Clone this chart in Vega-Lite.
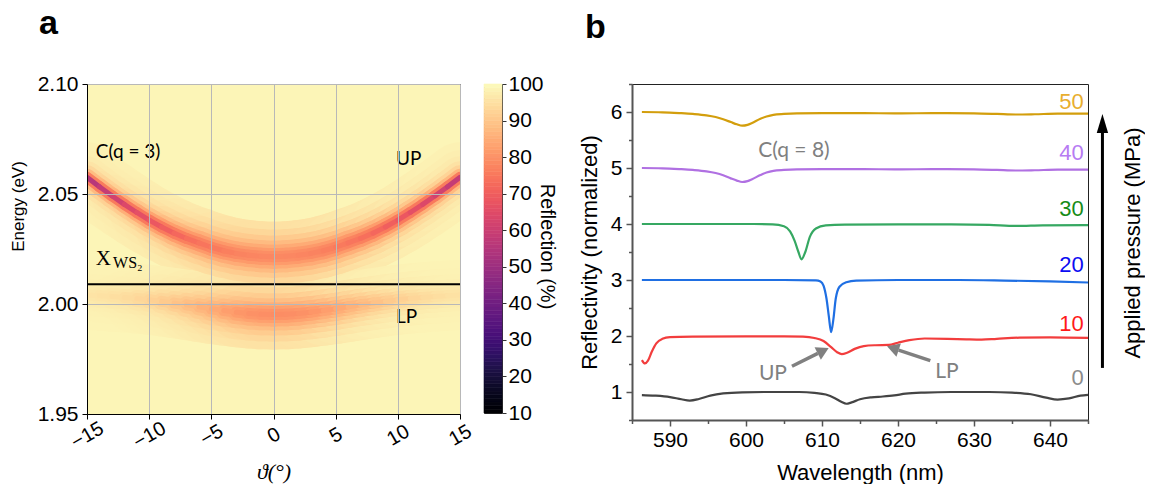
{
  "$schema": "https://vega.github.io/schema/vega-lite/v6.json",
  "padding": {"left": 8, "top": 6, "right": 0, "bottom": 0},
  "background": "white",
  "config": {
    "font": "Liberation Sans",
    "view": {"stroke": "#000"},
    "axis": {"labelFont": "Liberation Sans", "titleFont": "Liberation Sans", "labelColor": "#000", "titleColor": "#000", "titleFontWeight": "normal", "domainColor": "#000", "tickColor": "#000"},
    "title": {"fontSize": 34, "fontWeight": "bold", "anchor": "start", "font": "Liberation Sans", "color": "#000"}
  },
  "resolve": {"scale": {"color": "independent", "stroke": "independent", "fill": "independent"}},
  "spacing": 20,
  "datasets": {
    "bands": [
      {"b":"UP","t":-15,"e":2.0576,"r1":97.8,"r2":97.33,"r3":96.56,"r4":95.21,"r5":92.71,"r6":87.6,"r7":75.76,"r8":55.2},
      {"b":"UP","t":-14,"e":2.0533,"r1":97.7,"r2":97.2,"r3":96.35,"r4":94.88,"r5":92.19,"r6":86.87,"r7":75.45,"r8":58.09},
      {"b":"UP","t":-13,"e":2.0492,"r1":97.6,"r2":97.0,"r3":96.06,"r4":94.42,"r5":91.5,"r6":85.97,"r7":75.12,"r8":60.86},
      {"b":"UP","t":-12,"e":2.0453,"r1":97.45,"r2":96.78,"r3":95.69,"r4":93.86,"r5":90.69,"r6":85.02,"r7":74.92,"r8":63.45},
      {"b":"UP","t":-11,"e":2.0416,"r1":97.27,"r2":96.49,"r3":95.25,"r4":93.19,"r5":89.77,"r6":84.01,"r7":74.82,"r8":65.72},
      {"b":"UP","t":-10,"e":2.0381,"r1":97.05,"r2":96.15,"r3":94.73,"r4":92.45,"r5":88.82,"r6":83.12,"r7":74.95,"r8":67.84},
      {"b":"UP","t":-9,"e":2.0350,"r1":96.74,"r2":95.67,"r3":94.0,"r4":91.5,"r5":87.65,"r6":82.1,"r7":75.06,"r8":69.64},
      {"b":"UP","t":-8,"e":2.0322,"r1":96.44,"r2":95.2,"r3":93.4,"r4":90.66,"r5":86.75,"r6":81.54,"r7":75.55,"r8":71.35},
      {"b":"UP","t":-7,"e":2.0298,"r1":96.1,"r2":94.7,"r3":92.7,"r4":89.8,"r5":85.95,"r6":81.2,"r7":76.15,"r8":72.9},
      {"b":"UP","t":-6,"e":2.0278,"r1":95.74,"r2":94.2,"r3":92.05,"r4":89.07,"r5":85.28,"r6":80.92,"r7":76.68,"r8":74.1},
      {"b":"UP","t":-5,"e":2.0258,"r1":95.4,"r2":93.8,"r3":91.5,"r4":88.5,"r5":84.86,"r6":80.9,"r7":77.26,"r8":75.15},
      {"b":"UP","t":-4,"e":2.0242,"r1":95.1,"r2":93.35,"r3":91.0,"r4":88.0,"r5":84.5,"r6":80.9,"r7":77.76,"r8":76.0},
      {"b":"UP","t":-3,"e":2.0230,"r1":94.86,"r2":93.03,"r3":90.64,"r4":87.66,"r5":84.32,"r6":81.0,"r7":78.2,"r8":76.68},
      {"b":"UP","t":-2,"e":2.0222,"r1":94.64,"r2":92.75,"r3":90.3,"r4":87.37,"r5":84.16,"r6":81.06,"r7":78.52,"r8":77.16},
      {"b":"UP","t":-1,"e":2.0217,"r1":94.54,"r2":92.63,"r3":90.2,"r4":87.3,"r5":84.18,"r6":81.2,"r7":78.8,"r8":77.55},
      {"b":"UP","t":0,"e":2.0215,"r1":94.5,"r2":92.6,"r3":90.2,"r4":87.3,"r5":84.2,"r6":81.3,"r7":78.9,"r8":77.65},
      {"b":"UP","t":1,"e":2.0217,"r1":94.54,"r2":92.63,"r3":90.2,"r4":87.3,"r5":84.18,"r6":81.2,"r7":78.8,"r8":77.55},
      {"b":"UP","t":2,"e":2.0222,"r1":94.64,"r2":92.75,"r3":90.3,"r4":87.37,"r5":84.16,"r6":81.06,"r7":78.52,"r8":77.16},
      {"b":"UP","t":3,"e":2.0230,"r1":94.86,"r2":93.03,"r3":90.64,"r4":87.66,"r5":84.32,"r6":81.0,"r7":78.2,"r8":76.68},
      {"b":"UP","t":4,"e":2.0242,"r1":95.1,"r2":93.35,"r3":91.0,"r4":88.0,"r5":84.5,"r6":80.9,"r7":77.76,"r8":76.0},
      {"b":"UP","t":5,"e":2.0258,"r1":95.4,"r2":93.8,"r3":91.5,"r4":88.5,"r5":84.86,"r6":80.9,"r7":77.26,"r8":75.15},
      {"b":"UP","t":6,"e":2.0278,"r1":95.74,"r2":94.2,"r3":92.05,"r4":89.07,"r5":85.28,"r6":80.92,"r7":76.68,"r8":74.1},
      {"b":"UP","t":7,"e":2.0298,"r1":96.1,"r2":94.7,"r3":92.7,"r4":89.8,"r5":85.95,"r6":81.2,"r7":76.15,"r8":72.9},
      {"b":"UP","t":8,"e":2.0322,"r1":96.44,"r2":95.2,"r3":93.4,"r4":90.66,"r5":86.75,"r6":81.54,"r7":75.55,"r8":71.35},
      {"b":"UP","t":9,"e":2.0350,"r1":96.74,"r2":95.67,"r3":94.0,"r4":91.5,"r5":87.65,"r6":82.1,"r7":75.06,"r8":69.64},
      {"b":"UP","t":10,"e":2.0381,"r1":97.05,"r2":96.15,"r3":94.73,"r4":92.45,"r5":88.82,"r6":83.12,"r7":74.95,"r8":67.84},
      {"b":"UP","t":11,"e":2.0416,"r1":97.27,"r2":96.49,"r3":95.25,"r4":93.19,"r5":89.77,"r6":84.01,"r7":74.82,"r8":65.72},
      {"b":"UP","t":12,"e":2.0453,"r1":97.45,"r2":96.78,"r3":95.69,"r4":93.86,"r5":90.69,"r6":85.02,"r7":74.92,"r8":63.45},
      {"b":"UP","t":13,"e":2.0492,"r1":97.6,"r2":97.0,"r3":96.06,"r4":94.42,"r5":91.5,"r6":85.97,"r7":75.12,"r8":60.86},
      {"b":"UP","t":14,"e":2.0533,"r1":97.7,"r2":97.2,"r3":96.35,"r4":94.88,"r5":92.19,"r6":86.87,"r7":75.45,"r8":58.09},
      {"b":"UP","t":15,"e":2.0576,"r1":97.8,"r2":97.33,"r3":96.56,"r4":95.21,"r5":92.71,"r6":87.6,"r7":75.76,"r8":55.2},
      {"b":"LP","t":-15,"e":2.0041,"r1":98.23,"r2":98.07,"r3":97.83,"r4":97.48,"r5":96.98,"r6":96.32,"r7":95.58,"r8":95.07},
      {"b":"LP","t":-14,"e":2.0038,"r1":98.19,"r2":98.01,"r3":97.73,"r4":97.33,"r5":96.76,"r6":96.01,"r7":95.16,"r8":94.58},
      {"b":"LP","t":-13,"e":2.0034,"r1":98.14,"r2":97.92,"r3":97.61,"r4":97.14,"r5":96.49,"r6":95.65,"r7":94.72,"r8":94.08},
      {"b":"LP","t":-12,"e":2.0030,"r1":98.05,"r2":97.8,"r3":97.41,"r4":96.86,"r5":96.1,"r6":95.13,"r7":94.08,"r8":93.39},
      {"b":"LP","t":-11,"e":2.0025,"r1":97.95,"r2":97.63,"r3":97.16,"r4":96.49,"r5":95.59,"r6":94.46,"r7":93.27,"r8":92.5},
      {"b":"LP","t":-10,"e":2.0019,"r1":97.8,"r2":97.4,"r3":96.82,"r4":96.0,"r5":94.92,"r6":93.61,"r7":92.26,"r8":91.41},
      {"b":"LP","t":-9,"e":2.0012,"r1":97.58,"r2":97.07,"r3":96.34,"r4":95.33,"r5":94.03,"r6":92.51,"r7":91.02,"r8":90.11},
      {"b":"LP","t":-8,"e":2.0004,"r1":97.31,"r2":96.66,"r3":95.75,"r4":94.51,"r5":92.97,"r6":91.24,"r7":89.6,"r8":88.62},
      {"b":"LP","t":-7,"e":1.9996,"r1":96.99,"r2":96.18,"r3":95.06,"r4":93.59,"r5":91.79,"r6":89.85,"r7":88.06,"r8":87.03},
      {"b":"LP","t":-6,"e":1.9987,"r1":96.61,"r2":95.63,"r3":94.28,"r4":92.55,"r5":90.5,"r6":88.34,"r7":86.42,"r8":85.33},
      {"b":"LP","t":-5,"e":1.9978,"r1":96.2,"r2":95.02,"r3":93.44,"r4":91.44,"r5":89.14,"r6":86.79,"r7":84.76,"r8":83.63},
      {"b":"LP","t":-4,"e":1.9970,"r1":95.72,"r2":94.33,"r3":92.49,"r4":90.22,"r5":87.67,"r6":85.14,"r7":83.0,"r8":81.84},
      {"b":"LP","t":-3,"e":1.9963,"r1":95.27,"r2":93.68,"r3":91.62,"r4":89.1,"r5":86.34,"r6":83.66,"r7":81.43,"r8":80.24},
      {"b":"LP","t":-2,"e":1.9957,"r1":94.96,"r2":93.23,"r3":91.03,"r4":88.38,"r5":85.51,"r6":82.77,"r7":80.53,"r8":79.34},
      {"b":"LP","t":-1,"e":1.9953,"r1":94.74,"r2":92.94,"r3":90.65,"r4":87.92,"r5":85.0,"r6":82.24,"r7":80.01,"r8":78.84},
      {"b":"LP","t":0,"e":1.9952,"r1":94.7,"r2":92.88,"r3":90.57,"r4":87.81,"r5":84.87,"r6":82.08,"r7":79.83,"r8":78.64},
      {"b":"LP","t":1,"e":1.9953,"r1":94.74,"r2":92.94,"r3":90.65,"r4":87.92,"r5":85.0,"r6":82.24,"r7":80.01,"r8":78.84},
      {"b":"LP","t":2,"e":1.9957,"r1":94.96,"r2":93.23,"r3":91.03,"r4":88.38,"r5":85.51,"r6":82.77,"r7":80.53,"r8":79.34},
      {"b":"LP","t":3,"e":1.9963,"r1":95.27,"r2":93.68,"r3":91.62,"r4":89.1,"r5":86.34,"r6":83.66,"r7":81.43,"r8":80.24},
      {"b":"LP","t":4,"e":1.9970,"r1":95.72,"r2":94.33,"r3":92.49,"r4":90.22,"r5":87.67,"r6":85.14,"r7":83.0,"r8":81.84},
      {"b":"LP","t":5,"e":1.9978,"r1":96.2,"r2":95.02,"r3":93.44,"r4":91.44,"r5":89.14,"r6":86.79,"r7":84.76,"r8":83.63},
      {"b":"LP","t":6,"e":1.9987,"r1":96.61,"r2":95.63,"r3":94.28,"r4":92.55,"r5":90.5,"r6":88.34,"r7":86.42,"r8":85.33},
      {"b":"LP","t":7,"e":1.9996,"r1":96.99,"r2":96.18,"r3":95.06,"r4":93.59,"r5":91.79,"r6":89.85,"r7":88.06,"r8":87.03},
      {"b":"LP","t":8,"e":2.0004,"r1":97.31,"r2":96.66,"r3":95.75,"r4":94.51,"r5":92.97,"r6":91.24,"r7":89.6,"r8":88.62},
      {"b":"LP","t":9,"e":2.0012,"r1":97.58,"r2":97.07,"r3":96.34,"r4":95.33,"r5":94.03,"r6":92.51,"r7":91.02,"r8":90.11},
      {"b":"LP","t":10,"e":2.0019,"r1":97.8,"r2":97.4,"r3":96.82,"r4":96.0,"r5":94.92,"r6":93.61,"r7":92.26,"r8":91.41},
      {"b":"LP","t":11,"e":2.0025,"r1":97.95,"r2":97.63,"r3":97.16,"r4":96.49,"r5":95.59,"r6":94.46,"r7":93.27,"r8":92.5},
      {"b":"LP","t":12,"e":2.0030,"r1":98.05,"r2":97.8,"r3":97.41,"r4":96.86,"r5":96.1,"r6":95.13,"r7":94.08,"r8":93.39},
      {"b":"LP","t":13,"e":2.0034,"r1":98.14,"r2":97.92,"r3":97.61,"r4":97.14,"r5":96.49,"r6":95.65,"r7":94.72,"r8":94.08},
      {"b":"LP","t":14,"e":2.0038,"r1":98.19,"r2":98.01,"r3":97.73,"r4":97.33,"r5":96.76,"r6":96.01,"r7":95.16,"r8":94.58},
      {"b":"LP","t":15,"e":2.0041,"r1":98.23,"r2":98.07,"r3":97.83,"r4":97.48,"r5":96.98,"r6":96.32,"r7":95.58,"r8":95.07}
    ],
    "cbar": [
      {"v":10},{"v":11},{"v":12},{"v":13},{"v":14},{"v":15},{"v":16},{"v":17},{"v":18},{"v":19},
      {"v":20},{"v":21},{"v":22},{"v":23},{"v":24},{"v":25},{"v":26},{"v":27},{"v":28},{"v":29},
      {"v":30},{"v":31},{"v":32},{"v":33},{"v":34},{"v":35},{"v":36},{"v":37},{"v":38},{"v":39},
      {"v":40},{"v":41},{"v":42},{"v":43},{"v":44},{"v":45},{"v":46},{"v":47},{"v":48},{"v":49},
      {"v":50},{"v":51},{"v":52},{"v":53},{"v":54},{"v":55},{"v":56},{"v":57},{"v":58},{"v":59},
      {"v":60},{"v":61},{"v":62},{"v":63},{"v":64},{"v":65},{"v":66},{"v":67},{"v":68},{"v":69},
      {"v":70},{"v":71},{"v":72},{"v":73},{"v":74},{"v":75},{"v":76},{"v":77},{"v":78},{"v":79},
      {"v":80},{"v":81},{"v":82},{"v":83},{"v":84},{"v":85},{"v":86},{"v":87},{"v":88},{"v":89},
      {"v":90},{"v":91},{"v":92},{"v":93},{"v":94},{"v":95},{"v":96},{"v":97},{"v":98},{"v":99},
      {"v":100}
    ],
    "spec": [
      {"p":"0","w":586.3,"r":0.945},{"p":"0","w":588,"r":0.935},{"p":"0","w":590,"r":0.91},{"p":"0","w":591.5,"r":0.87},
      {"p":"0","w":592.6,"r":0.847},{"p":"0","w":593.8,"r":0.875},{"p":"0","w":595.3,"r":0.935},{"p":"0","w":597,"r":0.975},
      {"p":"0","w":599.5,"r":0.995},{"p":"0","w":603,"r":1.0},{"p":"0","w":607,"r":1.0},{"p":"0","w":609,"r":0.985},
      {"p":"0","w":610.5,"r":0.955},{"p":"0","w":611.7,"r":0.89},{"p":"0","w":612.6,"r":0.82},{"p":"0","w":613.2,"r":0.79},
      {"p":"0","w":613.9,"r":0.815},{"p":"0","w":615,"r":0.87},{"p":"0","w":616.5,"r":0.905},{"p":"0","w":618,"r":0.92},
      {"p":"0","w":619.5,"r":0.94},{"p":"0","w":621,"r":0.97},{"p":"0","w":623.5,"r":0.99},{"p":"0","w":627,"r":1.0},
      {"p":"0","w":632,"r":1.0},{"p":"0","w":635,"r":0.99},{"p":"0","w":637.5,"r":0.96},{"p":"0","w":639.5,"r":0.9},
      {"p":"0","w":641,"r":0.865},{"p":"0","w":642.5,"r":0.885},{"p":"0","w":644,"r":0.935},{"p":"0","w":645,"r":0.95},
      {"p":"10","w":586.3,"r":1.57},{"p":"10","w":586.7,"r":1.51},{"p":"10","w":587.1,"r":1.56},{"p":"10","w":587.6,"r":1.72},
      {"p":"10","w":588.2,"r":1.87},{"p":"10","w":589,"r":1.95},{"p":"10","w":590,"r":1.98},{"p":"10","w":593,"r":1.99},
      {"p":"10","w":600,"r":1.995},{"p":"10","w":605,"r":1.995},{"p":"10","w":607.5,"r":1.99},{"p":"10","w":609,"r":1.965},
      {"p":"10","w":610.2,"r":1.91},{"p":"10","w":611.2,"r":1.8},{"p":"10","w":612,"r":1.71},{"p":"10","w":612.6,"r":1.675},
      {"p":"10","w":613.3,"r":1.7},{"p":"10","w":614.3,"r":1.77},{"p":"10","w":615.5,"r":1.82},{"p":"10","w":617,"r":1.835},
      {"p":"10","w":618.8,"r":1.84},{"p":"10","w":620,"r":1.88},{"p":"10","w":621.5,"r":1.925},{"p":"10","w":623.5,"r":1.955},
      {"p":"10","w":626.5,"r":1.95},{"p":"10","w":629,"r":1.94},{"p":"10","w":631,"r":1.935},{"p":"10","w":633,"r":1.95},
      {"p":"10","w":636,"r":1.97},{"p":"10","w":640,"r":1.975},{"p":"10","w":645,"r":1.965},
      {"p":"20","w":586.3,"r":3.0},{"p":"20","w":595,"r":3.0},{"p":"20","w":605,"r":3.0},{"p":"20","w":609.2,"r":2.995},
      {"p":"20","w":609.8,"r":2.975},{"p":"20","w":610.2,"r":2.9},{"p":"20","w":610.6,"r":2.66},{"p":"20","w":610.9,"r":2.35},
      {"p":"20","w":611.2,"r":2.07},{"p":"20","w":611.5,"r":2.3},{"p":"20","w":611.8,"r":2.66},{"p":"20","w":612.3,"r":2.88},
      {"p":"20","w":613.2,"r":2.96},{"p":"20","w":614.5,"r":2.99},{"p":"20","w":620,"r":3.0},{"p":"20","w":628,"r":3.0},
      {"p":"20","w":634,"r":2.99},{"p":"20","w":640,"r":2.975},{"p":"20","w":645,"r":2.955},
      {"p":"30","w":586.3,"r":4.0},{"p":"30","w":595,"r":4.0},{"p":"30","w":601,"r":4.0},{"p":"30","w":603.5,"r":3.995},
      {"p":"30","w":605,"r":3.96},{"p":"30","w":605.8,"r":3.87},{"p":"30","w":606.4,"r":3.7},{"p":"30","w":606.9,"r":3.5},
      {"p":"30","w":607.3,"r":3.37},{"p":"30","w":607.8,"r":3.5},{"p":"30","w":608.4,"r":3.77},{"p":"30","w":609.2,"r":3.92},
      {"p":"30","w":610.5,"r":3.975},{"p":"30","w":613,"r":3.99},{"p":"30","w":620,"r":3.995},{"p":"30","w":627,"r":3.995},
      {"p":"30","w":632,"r":3.985},{"p":"30","w":635.5,"r":3.965},{"p":"30","w":639,"r":3.975},{"p":"30","w":645,"r":3.98},
      {"p":"40","w":586.3,"r":5.0},{"p":"40","w":589,"r":4.995},{"p":"40","w":591.3,"r":4.98},{"p":"40","w":593,"r":4.965},
      {"p":"40","w":594.8,"r":4.94},{"p":"40","w":596,"r":4.91},{"p":"40","w":597,"r":4.87},{"p":"40","w":598,"r":4.815},
      {"p":"40","w":598.8,"r":4.775},{"p":"40","w":599.5,"r":4.75},{"p":"40","w":600.2,"r":4.765},{"p":"40","w":600.8,"r":4.8},
      {"p":"40","w":601.9,"r":4.875},{"p":"40","w":602.7,"r":4.92},{"p":"40","w":603.6,"r":4.95},{"p":"40","w":605,"r":4.965},
      {"p":"40","w":606.7,"r":4.975},{"p":"40","w":610,"r":4.98},{"p":"40","w":615,"r":4.98},{"p":"40","w":620,"r":4.975},
      {"p":"40","w":625,"r":4.98},{"p":"40","w":630,"r":4.975},{"p":"40","w":633,"r":4.965},{"p":"40","w":635.5,"r":4.955},
      {"p":"40","w":638,"r":4.96},{"p":"40","w":641,"r":4.97},{"p":"40","w":645,"r":4.97},
      {"p":"50","w":586.3,"r":6.0},{"p":"50","w":589,"r":5.995},{"p":"50","w":591.3,"r":5.98},{"p":"50","w":593,"r":5.965},
      {"p":"50","w":594.8,"r":5.94},{"p":"50","w":596,"r":5.91},{"p":"50","w":597,"r":5.87},{"p":"50","w":598,"r":5.82},
      {"p":"50","w":598.8,"r":5.78},{"p":"50","w":599.5,"r":5.755},{"p":"50","w":600.2,"r":5.77},{"p":"50","w":600.8,"r":5.805},
      {"p":"50","w":601.9,"r":5.88},{"p":"50","w":602.7,"r":5.92},{"p":"50","w":603.6,"r":5.95},{"p":"50","w":605,"r":5.965},
      {"p":"50","w":606.7,"r":5.975},{"p":"50","w":610,"r":5.98},{"p":"50","w":615,"r":5.98},{"p":"50","w":620,"r":5.975},
      {"p":"50","w":625,"r":5.98},{"p":"50","w":630,"r":5.975},{"p":"50","w":633,"r":5.965},{"p":"50","w":635.5,"r":5.955},
      {"p":"50","w":638,"r":5.96},{"p":"50","w":641,"r":5.97},{"p":"50","w":645,"r":5.97}
    ]
  },
  "hconcat": [
    {
      "spacing": 7,
      "hconcat": [
        {
          "title": {"text": "a", "frame": "group", "dx": -48, "offset": 32},
          "width": 373,
          "height": 330,
          "layer": [
            {
              "data": {"values": [{"t1": -15, "t2": 15, "e1": 1.95, "e2": 2.1, "r": 98.5}]},
              "mark": {"type": "rect"},
              "encoding": {
                "x": {"field": "t1", "type": "quantitative", "title": "ϑ(°)",
                  "scale": {"domain": [-15, 15], "nice": false, "zero": false},
                  "axis": {"values": [-15, -10, -5, 0, 5, 10, 15], "labelAngle": -30, "labelAlign": "center", "labelBaseline": "middle", "labelFlush": false, "labelOverlap": false, "labelFontSize": 20, "labelPadding": 16, "tickSize": 5, "grid": true, "gridColor": "#b8b8b8", "zindex": 1, "titleFontSize": 22, "titleFont": "Liberation Serif", "titleFontStyle": "italic", "titlePadding": 9}},
                "x2": {"field": "t2"},
                "y": {"field": "e1", "type": "quantitative", "title": "Energy (eV)",
                  "scale": {"domain": [1.95, 2.1], "nice": false, "zero": false},
                  "axis": {"values": [1.95, 2.0, 2.05, 2.1], "format": ".2f", "labelFontSize": 21, "labelPadding": 4, "tickSize": 5, "grid": true, "gridColor": "#b8b8b8", "zindex": 1, "titleFontSize": 17, "titlePadding": 10, "titleY": 122}},
                "y2": {"field": "e2"},
                "color": {"field": "r", "type": "quantitative", "scale": {"scheme": "magma", "domain": [10, 100]}, "legend": null}
              }
            },
            {
              "data": {"name": "bands"},
              "transform": [{"window": [{"op": "lead", "field": "t", "as": "t2"}, {"op": "lead", "field": "e", "as": "e2"}], "groupby": ["b"], "sort": [{"field": "t"}]}, {"filter": "datum.t2 != null"}],
              "mark": {"type": "rule", "strokeWidth": 70, "strokeCap": "round", "clip": true},
              "encoding": {"x": {"field": "t", "type": "quantitative"}, "y": {"field": "e", "type": "quantitative"}, "x2": {"field": "t2"}, "y2": {"field": "e2"}, "color": {"field": "r1", "type": "quantitative"}}
            },
            {
              "data": {"name": "bands"},
              "transform": [{"window": [{"op": "lead", "field": "t", "as": "t2"}, {"op": "lead", "field": "e", "as": "e2"}], "groupby": ["b"], "sort": [{"field": "t"}]}, {"filter": "datum.t2 != null"}],
              "mark": {"type": "rule", "strokeWidth": 54, "strokeCap": "round", "clip": true},
              "encoding": {"x": {"field": "t", "type": "quantitative"}, "y": {"field": "e", "type": "quantitative"}, "x2": {"field": "t2"}, "y2": {"field": "e2"}, "color": {"field": "r2", "type": "quantitative"}}
            },
            {
              "data": {"name": "bands"},
              "transform": [{"window": [{"op": "lead", "field": "t", "as": "t2"}, {"op": "lead", "field": "e", "as": "e2"}], "groupby": ["b"], "sort": [{"field": "t"}]}, {"filter": "datum.t2 != null"}],
              "mark": {"type": "rule", "strokeWidth": 42, "strokeCap": "round", "clip": true},
              "encoding": {"x": {"field": "t", "type": "quantitative"}, "y": {"field": "e", "type": "quantitative"}, "x2": {"field": "t2"}, "y2": {"field": "e2"}, "color": {"field": "r3", "type": "quantitative"}}
            },
            {
              "data": {"name": "bands"},
              "transform": [{"window": [{"op": "lead", "field": "t", "as": "t2"}, {"op": "lead", "field": "e", "as": "e2"}], "groupby": ["b"], "sort": [{"field": "t"}]}, {"filter": "datum.t2 != null"}],
              "mark": {"type": "rule", "strokeWidth": 32, "strokeCap": "round", "clip": true},
              "encoding": {"x": {"field": "t", "type": "quantitative"}, "y": {"field": "e", "type": "quantitative"}, "x2": {"field": "t2"}, "y2": {"field": "e2"}, "color": {"field": "r4", "type": "quantitative"}}
            },
            {
              "data": {"name": "bands"},
              "transform": [{"window": [{"op": "lead", "field": "t", "as": "t2"}, {"op": "lead", "field": "e", "as": "e2"}], "groupby": ["b"], "sort": [{"field": "t"}]}, {"filter": "datum.t2 != null"}],
              "mark": {"type": "rule", "strokeWidth": 24, "strokeCap": "round", "clip": true},
              "encoding": {"x": {"field": "t", "type": "quantitative"}, "y": {"field": "e", "type": "quantitative"}, "x2": {"field": "t2"}, "y2": {"field": "e2"}, "color": {"field": "r5", "type": "quantitative"}}
            },
            {
              "data": {"name": "bands"},
              "transform": [{"window": [{"op": "lead", "field": "t", "as": "t2"}, {"op": "lead", "field": "e", "as": "e2"}], "groupby": ["b"], "sort": [{"field": "t"}]}, {"filter": "datum.t2 != null"}],
              "mark": {"type": "rule", "strokeWidth": 17, "strokeCap": "round", "clip": true},
              "encoding": {"x": {"field": "t", "type": "quantitative"}, "y": {"field": "e", "type": "quantitative"}, "x2": {"field": "t2"}, "y2": {"field": "e2"}, "color": {"field": "r6", "type": "quantitative"}}
            },
            {
              "data": {"name": "bands"},
              "transform": [{"window": [{"op": "lead", "field": "t", "as": "t2"}, {"op": "lead", "field": "e", "as": "e2"}], "groupby": ["b"], "sort": [{"field": "t"}]}, {"filter": "datum.t2 != null"}],
              "mark": {"type": "rule", "strokeWidth": 11, "strokeCap": "round", "clip": true},
              "encoding": {"x": {"field": "t", "type": "quantitative"}, "y": {"field": "e", "type": "quantitative"}, "x2": {"field": "t2"}, "y2": {"field": "e2"}, "color": {"field": "r7", "type": "quantitative"}}
            },
            {
              "data": {"name": "bands"},
              "transform": [{"window": [{"op": "lead", "field": "t", "as": "t2"}, {"op": "lead", "field": "e", "as": "e2"}], "groupby": ["b"], "sort": [{"field": "t"}]}, {"filter": "datum.t2 != null"}],
              "mark": {"type": "rule", "strokeWidth": 5, "strokeCap": "round", "clip": true},
              "encoding": {"x": {"field": "t", "type": "quantitative"}, "y": {"field": "e", "type": "quantitative"}, "x2": {"field": "t2"}, "y2": {"field": "e2"}, "color": {"field": "r8", "type": "quantitative"}}
            },
            {
              "data": {"values": [{"e": 2.009}]},
              "mark": {"type": "rule", "color": "#000", "strokeWidth": 2},
              "encoding": {"y": {"field": "e", "type": "quantitative"}}
            },
            {
              "data": {"values": [
                {"t": -14.3, "e": 2.0662, "txt": "C(q = 3)"},
                {"t": 9.86, "e": 2.063, "txt": "UP"},
                {"t": 9.86, "e": 1.9914, "txt": "LP"}
              ]},
              "mark": {"type": "text", "align": "left", "baseline": "alphabetic", "font": "Lato", "fontSize": 19, "color": "#000"},
              "encoding": {"x": {"field": "t", "type": "quantitative"}, "y": {"field": "e", "type": "quantitative"}, "text": {"field": "txt"}}
            },
            {
              "data": {"values": [{"t": -14.3, "e": 2.0177, "txt": "X"}]},
              "mark": {"type": "text", "align": "left", "baseline": "alphabetic", "font": "Liberation Serif", "fontSize": 21, "color": "#000"},
              "encoding": {"x": {"field": "t", "type": "quantitative"}, "y": {"field": "e", "type": "quantitative"}, "text": {"field": "txt"}}
            },
            {
              "data": {"values": [{"t": -12.9, "e": 2.0163, "txt": "WS₂"}]},
              "mark": {"type": "text", "align": "left", "baseline": "alphabetic", "font": "Liberation Serif, DejaVu Serif", "fontSize": 16, "color": "#000"},
              "encoding": {"x": {"field": "t", "type": "quantitative"}, "y": {"field": "e", "type": "quantitative"}, "text": {"field": "txt"}}
            }
          ]
        },
        {
          "title": {"text": " ", "frame": "group", "offset": 10},
          "width": 18,
          "height": 329,
          "view": {"stroke": "#333"},
          "data": {"name": "cbar"},
          "transform": [
            {"window": [{"op": "lead", "field": "v", "as": "v2"}], "sort": [{"field": "v"}]},
            {"filter": "datum.v2 != null"}
          ],
          "mark": {"type": "rect", "strokeWidth": 0.6},
          "encoding": {
            "y": {"field": "v", "type": "quantitative",
              "scale": {"domain": [10, 100], "nice": false, "zero": false},
              "axis": {"orient": "right", "values": [10, 20, 30, 40, 50, 60, 70, 80, 90, 100], "tickSize": 4, "tickColor": "#333", "labelFontSize": 21, "labelPadding": 2, "domain": false, "grid": false, "title": "Reflection (%)", "titleFontSize": 20, "titleAngle": 90, "titleX": 44, "titleY": 162, "titleAlign": "center", "titleBaseline": "middle"}},
            "y2": {"field": "v2"},
            "color": {"field": "v", "type": "quantitative", "scale": {"scheme": "magma", "domain": [10, 100]}, "legend": null},
            "stroke": {"field": "v", "type": "quantitative", "scale": {"scheme": "magma", "domain": [10, 100]}, "legend": null}
          }
        }
      ]
    },
    {
      "title": {"text": "b", "frame": "group", "dx": -47, "offset": 38},
      "width": 456,
      "height": 336,
      "view": {"stroke": "#222"},
      "resolve": {"axis": {"x": "independent", "y": "independent"}},
      "layer": [
        {
          "data": {"name": "spec"},
          "mark": {"type": "line", "strokeWidth": 2.2, "interpolate": "monotone"},
          "encoding": {
            "x": {"field": "w", "type": "quantitative", "title": "Wavelength (nm)",
              "scale": {"domain": [585, 645], "nice": false, "zero": false},
              "axis": {"orient": "bottom", "values": [590, 600, 610, 620, 630, 640], "format": "d", "tickSize": 6, "labelFlush": false, "labelOverlap": false, "labelFontSize": 21, "labelPadding": 3, "titleFontSize": 22, "titlePadding": 12, "grid": false, "domainColor": "#555", "domainWidth": 2, "tickColor": "#555", "tickWidth": 1.5}},
            "y": {"field": "r", "type": "quantitative", "title": "Reflectivity (normalized)",
              "scale": {"domain": [0.5, 6.5], "nice": false, "zero": false},
              "axis": {"orient": "left", "values": [1, 2, 3, 4, 5, 6], "format": "d", "tickSize": 6, "labelOverlap": false, "labelFontSize": 21, "labelPadding": 4, "titleFontSize": 22, "titlePadding": 9, "grid": false, "domainColor": "#555", "domainWidth": 2, "tickColor": "#555", "tickWidth": 1.5}},
            "stroke": {"field": "p", "type": "nominal", "scale": {"domain": ["0", "10", "20", "30", "40", "50"], "range": ["#444444", "#f23d3d", "#1f6fe3", "#36a862", "#b070e2", "#d39e0c"]}, "legend": null}
          }
        },
        {
          "data": {"values": [
            {"p": "50", "w": 644.45, "y": 6.06},
            {"p": "40", "w": 644.45, "y": 5.15},
            {"p": "30", "w": 644.45, "y": 4.15},
            {"p": "20", "w": 644.45, "y": 3.14},
            {"p": "10", "w": 644.45, "y": 2.09},
            {"p": "0", "w": 644.45, "y": 1.12}
          ]},
          "mark": {"type": "text", "align": "right", "baseline": "alphabetic", "fontSize": 22, "font": "Liberation Sans"},
          "encoding": {
            "x": {"field": "w", "type": "quantitative", "axis": null},
            "y": {"field": "y", "type": "quantitative", "axis": null},
            "text": {"field": "p"},
            "fill": {"field": "p", "type": "nominal", "scale": {"domain": ["0", "10", "20", "30", "40", "50"], "range": ["#8c8c8c", "#ff1a1a", "#0c0cf2", "#178c17", "#b77cf3", "#e8ae2e"]}, "legend": null}
          }
        },
        {
          "data": {"values": [
            {"txt": "C(q = 8)", "w": 601.6, "y": 5.2},
            {"txt": "UP", "w": 601.7, "y": 1.22},
            {"txt": "LP", "w": 624.9, "y": 1.25}
          ]},
          "mark": {"type": "text", "align": "left", "baseline": "alphabetic", "fontSize": 21, "font": "Lato", "color": "#808080"},
          "encoding": {
            "x": {"field": "w", "type": "quantitative", "axis": null},
            "y": {"field": "y", "type": "quantitative", "axis": null},
            "text": {"field": "txt"}
          }
        },
        {
          "data": {"values": [
            {"w1": 606.05, "y1": 1.459, "w2": 609.45, "y2": 1.689},
            {"w1": 624.25, "y1": 1.56, "w2": 620.08, "y2": 1.748}
          ]},
          "mark": {"type": "rule", "color": "#808080", "strokeWidth": 3.5},
          "encoding": {
            "x": {"field": "w1", "type": "quantitative", "axis": {"orient": "bottom", "values": [585, 595, 605, 615, 625, 635, 645], "labels": false, "tickSize": 3.5, "tickColor": "#555", "tickWidth": 1.5, "domain": false, "grid": false, "title": null}},
            "y": {"field": "y1", "type": "quantitative", "axis": {"orient": "left", "values": [0.5, 1.5, 2.5, 3.5, 4.5, 5.5, 6.5], "labels": false, "tickSize": 3.5, "tickColor": "#555", "tickWidth": 1.5, "domain": false, "grid": false, "title": null}},
            "x2": {"field": "w2"},
            "y2": {"field": "y2"}
          }
        },
        {
          "data": {"values": [{"w": 610.16, "y": 1.737}]},
          "mark": {"type": "point", "shape": "triangle-up", "filled": true, "size": 200, "color": "#808080", "opacity": 1, "angle": 63.5},
          "encoding": {"x": {"field": "w", "type": "quantitative", "axis": null}, "y": {"field": "y", "type": "quantitative", "axis": null}}
        },
        {
          "data": {"values": [{"w": 619.32, "y": 1.782}]},
          "mark": {"type": "point", "shape": "triangle-up", "filled": true, "size": 200, "color": "#808080", "opacity": 1, "angle": 288.3},
          "encoding": {"x": {"field": "w", "type": "quantitative", "axis": null}, "y": {"field": "y", "type": "quantitative", "axis": null}}
        },
        {
          "data": {"values": [{"w1": 646.9, "y1": 1.43, "w2": 646.9, "y2": 5.72}]},
          "mark": {"type": "rule", "color": "#000", "strokeWidth": 3},
          "encoding": {"x": {"field": "w1", "type": "quantitative", "axis": null}, "y": {"field": "y1", "type": "quantitative", "axis": null}, "x2": {"field": "w2"}, "y2": {"field": "y2"}}
        },
        {
          "data": {"values": [{"w": 646.9, "y": 5.795}]},
          "mark": {"type": "point", "shape": "M0,-1L0.6,1L-0.6,1Z", "filled": true, "size": 361, "color": "#000", "opacity": 1},
          "encoding": {"x": {"field": "w", "type": "quantitative", "axis": null}, "y": {"field": "y", "type": "quantitative", "axis": null}}
        },
        {
          "data": {"values": [{"w": 650.9, "y": 3.66, "txt": "Applied pressure (MPa)"}]},
          "mark": {"type": "text", "angle": 270, "align": "center", "baseline": "middle", "fontSize": 22, "font": "Liberation Sans", "color": "#000"},
          "encoding": {"x": {"field": "w", "type": "quantitative", "axis": null}, "y": {"field": "y", "type": "quantitative", "axis": null}, "text": {"field": "txt"}}
        }
      ]
    }
  ]
}
